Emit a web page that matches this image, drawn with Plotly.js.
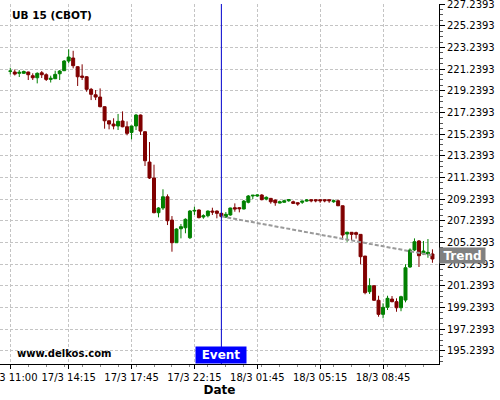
<!DOCTYPE html>
<html>
<head>
<meta charset="utf-8">
<script src="https://cdn.plot.ly/plotly-3.0.1.min.js"></script>
<style>html,body{margin:0;padding:0;background:#fff;}#chart{width:500px;height:400px;}</style>
</head>
<body>
<div id="chart"></div>
<script>
// 15-minute bars (category axis)
var times = [
"17/3 11:00","17/3 11:15","17/3 11:30","17/3 11:45","17/3 12:00","17/3 12:15","17/3 12:30","17/3 12:45",
"17/3 13:00","17/3 13:15","17/3 13:30","17/3 13:45","17/3 14:00","17/3 14:15","17/3 14:30","17/3 14:45",
"17/3 15:00","17/3 15:15","17/3 15:30","17/3 15:45","17/3 16:00","17/3 16:15","17/3 16:30","17/3 16:45",
"17/3 17:00","17/3 17:15","17/3 17:30","17/3 17:45","17/3 18:00","17/3 18:15","17/3 18:30","17/3 18:45",
"17/3 19:00","17/3 19:15","17/3 19:30","17/3 19:45","17/3 20:00","17/3 20:15","17/3 20:30","17/3 20:45",
"17/3 22:00","17/3 22:15","17/3 22:30","17/3 22:45","17/3 23:00","17/3 23:15","17/3 23:30","17/3 23:45",
"18/3 00:00","18/3 00:15","18/3 00:30","18/3 00:45","18/3 01:00","18/3 01:15","18/3 01:30","18/3 01:45",
"18/3 02:00","18/3 02:15","18/3 02:30","18/3 02:45","18/3 03:00","18/3 03:15","18/3 03:30","18/3 03:45",
"18/3 04:00","18/3 04:15","18/3 04:30","18/3 04:45","18/3 05:00","18/3 05:15","18/3 05:30","18/3 05:45",
"18/3 06:00","18/3 06:15","18/3 06:30","18/3 06:45","18/3 07:00","18/3 07:15","18/3 07:30","18/3 07:45",
"18/3 08:00","18/3 08:15","18/3 08:30","18/3 08:45","18/3 09:00","18/3 09:15","18/3 09:30","18/3 09:45",
"18/3 10:00","18/3 10:15","18/3 10:30","18/3 10:45","18/3 11:00","18/3 11:15","18/3 11:30"
];

var openP = [
221.04,220.97,220.85,220.85,220.97,220.63,220.44,220.90,220.72,220.29,220.35,220.81,221.09,221.98,222.26,221.46,
220.60,220.53,219.37,218.87,218.66,217.77,216.47,216.17,215.99,216.45,215.92,215.40,215.99,217.00,215.46,212.66,
211.19,207.99,208.42,209.46,207.31,205.22,206.51,206.60,205.68,208.14,208.24,207.59,207.71,208.14,208.14,207.93,
207.59,207.78,208.45,208.45,208.33,208.95,209.53,209.53,209.62,209.25,209.31,209.16,208.88,208.95,209.09,209.00,
208.91,208.95,209.06,209.19,209.19,209.19,209.19,209.19,209.00,209.09,208.63,206.02,206.18,206.15,205.99,203.99,
200.70,201.25,199.91,198.61,199.26,200.02,199.78,199.22,199.93,202.98,204.55,205.38,204.18,204.18,204.18
];
var highP = [
221.36,221.20,221.15,221.10,221.00,220.85,220.94,221.06,220.85,220.63,221.09,221.15,222.07,223.06,222.93,221.50,
221.68,220.60,219.50,219.31,219.46,217.80,216.50,216.70,217.10,217.34,216.42,216.00,217.10,217.05,215.50,214.51,
212.42,208.50,210.15,209.68,207.68,206.55,206.95,207.47,208.24,208.54,208.30,207.84,208.20,208.45,208.20,208.00,
208.05,208.45,208.85,208.50,209.16,209.62,209.62,209.68,209.70,209.50,209.35,209.20,209.10,209.19,209.25,209.10,
208.95,209.10,209.25,209.20,209.22,209.22,209.22,209.22,209.20,209.20,208.65,206.24,206.20,206.24,206.00,204.00,
201.94,201.30,200.33,199.63,200.33,200.30,200.09,200.33,203.23,204.70,205.62,205.47,205.38,205.56,204.61
];
var lowP = [
220.75,220.65,220.51,220.80,220.23,220.23,219.92,220.42,220.14,220.00,220.32,220.23,221.06,221.77,221.31,219.68,
220.23,219.15,218.38,218.38,217.71,215.74,215.68,215.68,215.62,215.87,215.13,214.76,215.62,215.16,212.30,211.10,
207.93,207.56,208.24,206.85,204.39,205.20,205.62,206.09,205.56,207.78,207.47,207.43,207.56,207.78,207.47,207.50,
207.50,207.71,208.08,208.02,208.30,208.85,209.25,209.45,209.13,209.13,208.82,208.63,208.85,208.93,209.00,208.79,
208.63,208.80,209.00,208.95,208.95,208.90,208.95,208.90,208.90,208.60,205.47,205.31,205.47,205.60,203.23,200.46,
200.49,199.84,198.39,198.25,199.01,199.72,198.85,198.90,199.72,202.90,204.45,202.98,204.08,203.83,203.37
];
var closeP = [
221.06,220.78,220.94,221.02,220.72,220.44,220.85,220.72,220.29,220.39,220.75,221.06,221.98,222.35,221.55,220.53,
220.48,219.37,218.91,218.66,217.77,216.47,216.17,215.99,216.42,215.92,215.31,215.99,217.00,215.52,212.78,211.19,
207.99,208.42,209.46,207.25,205.22,206.48,206.70,207.38,208.14,208.20,207.53,207.71,208.14,208.05,207.93,207.65,
207.84,208.42,208.33,208.36,209.06,209.53,209.60,209.62,209.19,209.41,209.00,208.91,209.00,209.09,209.19,208.85,
208.79,209.06,209.16,209.09,209.09,209.09,209.09,209.09,209.09,208.63,205.93,206.18,205.99,205.99,203.93,200.61,
201.25,199.91,198.61,199.26,200.09,199.78,199.22,200.24,202.91,204.55,205.31,204.02,204.45,204.33,203.72
];

var tickLabels = ["17/3 11:00","17/3 14:15","17/3 17:45","17/3 22:15","18/3 01:45","18/3 05:15","18/3 08:45"];
var eventTime = "17/3 23:45";
var trendTimes = ["17/3 23:45","18/3 11:30"];
var trendValues = [207.65, 204.05];

var eventIdx = times.indexOf(eventTime);

var traces = [
  {
    type: 'candlestick',
    x: times, open: openP, high: highP, low: lowP, close: closeP,
    increasing: {line: {color: '#008000', width: 1}, fillcolor: '#008000'},
    decreasing: {line: {color: '#800000', width: 1}, fillcolor: '#800000'},
    whiskerwidth: 0,
    hoverinfo: 'skip',
    showlegend: false
  },
  {
    type: 'scatter', mode: 'lines',
    x: trendTimes, y: trendValues,
    line: {color: '#9a9a9a', width: 2, dash: '4px,2px'},
    hoverinfo: 'skip', showlegend: false
  }
];

var layout = {
  width: 500, height: 400,
  margin: {l: 0, r: 61, t: 4, b: 36, pad: 0},
  paper_bgcolor: '#ffffff', plot_bgcolor: '#ffffff',
  font: {family: 'DejaVu Sans', size: 10, color: '#000'},
  showlegend: false,
  boxgap: 0.05, boxgroupgap: 0.3,
  xaxis: {
    type: 'category',
    range: [-2.29, 95.46],
    rangeslider: {visible: false},
    tickmode: 'array', tickvals: tickLabels, ticktext: tickLabels,
    ticks: 'outside', ticklen: 4, tickcolor: '#000', tickwidth: 1,
    minor: {ticks: 'outside', ticklen: 2, tickcolor: '#888', dtick: 3.5, tick0: 0, showgrid: false},
    showline: true, linecolor: '#000', linewidth: 1,
    showgrid: true, gridcolor: '#c4c4c4', griddash: '3px,2px', gridwidth: 1,
    zeroline: false,
    ticklabeloverflow: 'allow',
    tickfont: {size: 10},
    title: {text: 'Date', font: {size: 12, weight: 'bold'}, standoff: 3},
    fixedrange: true
  },
  yaxis: {
    side: 'right',
    range: [194.03, 227.245],
    tick0: 195.2393, dtick: 2, tickformat: '.4f',
    ticks: 'outside', ticklen: 5, tickcolor: '#000',
    minor: {ticks: 'outside', ticklen: 3, tickcolor: '#555', dtick: 0.5, tick0: 195.2393, showgrid: false},
    showline: true, linecolor: '#000', linewidth: 1,
    showgrid: true, gridcolor: '#c4c4c4', griddash: '3px,2px', gridwidth: 1,
    zeroline: false,
    ticklabeloverflow: 'allow',
    tickfont: {size: 10},
    fixedrange: true
  },
  shapes: [
    {type: 'line', xref: 'x', yref: 'paper', x0: eventIdx, x1: eventIdx, y0: 0, y1: 1,
     line: {color: '#0000cc', width: 1}}
  ],
  annotations: [
    {xref: 'paper', yref: 'paper', x: 0.0228, y: 0.969, xanchor: 'left', yanchor: 'middle',
     text: 'UB 15 (CBOT)', showarrow: false, font: {size: 10.5, weight: 'bold', color: '#000'}},
    {xref: 'paper', yref: 'paper', x: 0.034, y: 0.029, xanchor: 'left', yanchor: 'middle',
     text: 'www.delkos.com', showarrow: false, font: {size: 10, weight: 'bold', color: '#000'}},
    {xref: 'x', yref: 'paper', x: eventIdx, y: 0, xanchor: 'center', yanchor: 'bottom',
     text: 'Event', showarrow: false, bgcolor: '#0000ff', width: 48, height: 14, borderpad: 1,
     font: {size: 12, weight: 'bold', color: '#ffffff'}},
    {xref: 'paper', yref: 'y', x: 1, y: trendValues[trendValues.length - 1], xanchor: 'left', yanchor: 'middle',
     text: 'Trend', showarrow: false, bgcolor: '#808080', width: 43, height: 13, borderpad: 1,
     font: {size: 12, weight: 'bold', color: '#ffffff'}}
  ]
};

Plotly.newPlot('chart', traces, layout, {staticPlot: true, displayModeBar: false});
</script>
</body>
</html>
